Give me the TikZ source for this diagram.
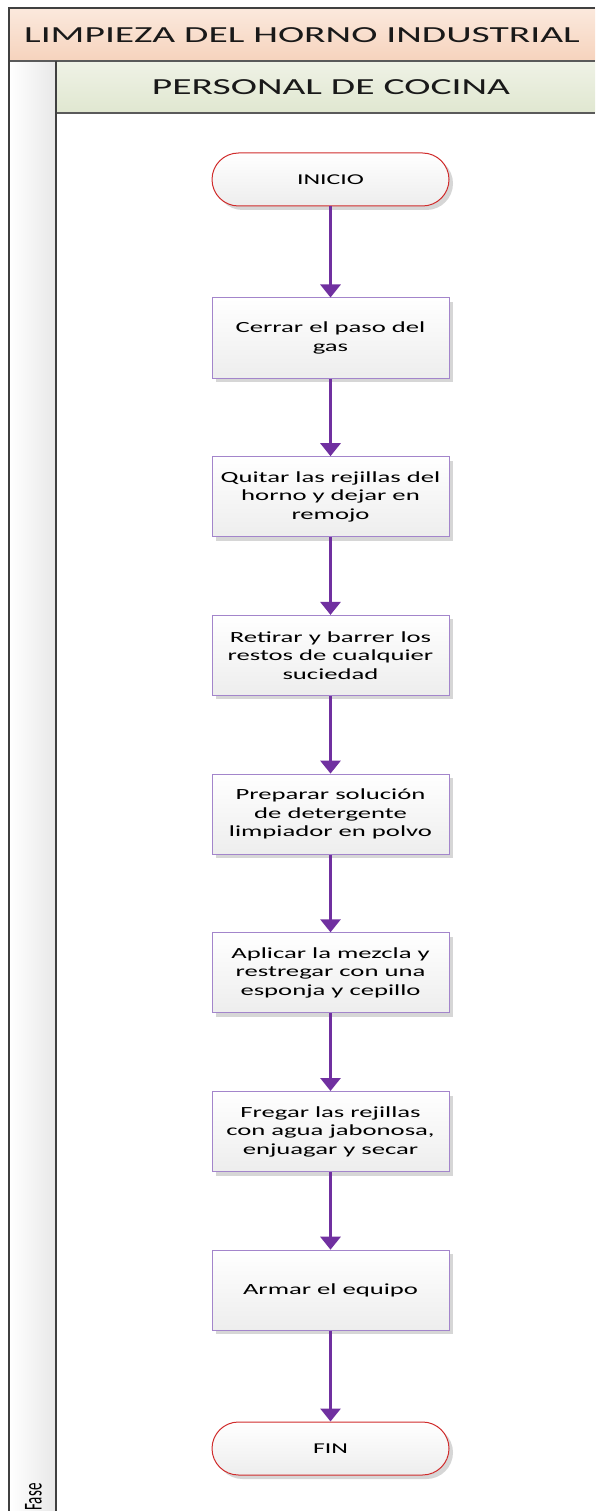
\documentclass[tikz,border=0pt]{standalone}
\usepackage{fontspec}
\usetikzlibrary{arrows.meta,shadows}
\setmainfont{Carlito}
\newfontfamily\widefont[FakeStretch=1.72]{Carlito}
\definecolor{framegray}{HTML}{404040}
\definecolor{bandline}{HTML}{5A5A5A}
\definecolor{peachtop}{HTML}{FBE9DD}
\definecolor{peachbot}{HTML}{F6D3BD}
\definecolor{sagetop}{HTML}{EFF2E6}
\definecolor{sagebot}{HTML}{E0E7D0}
\definecolor{flowpurple}{HTML}{7030A0}
\definecolor{boxedge}{HTML}{A385CB}
\definecolor{termedge}{HTML}{D02C2C}
\tikzset{
  x=1pt, y=-1pt,
  boxshade/.style={top color=white, bottom color=black!7,
    drop shadow={shadow xshift=4pt, shadow yshift=-4pt, fill=black!16, opacity=1}},
  process/.style={boxshade, draw=boxedge, line width=1pt, minimum width=237pt,
    minimum height=80pt, align=center, inner sep=2pt,
    font=\widefont\fontsize{15.5}{18.5}\selectfont},
  terminal/.style={boxshade, draw=termedge, line width=1pt, minimum width=237pt,
    minimum height=53pt, rounded corners=26.5pt, align=center,
    font=\widefont\fontsize{15}{18}\selectfont},
  flow/.style={draw=flowpurple, line width=3pt,
    -{Triangle[width=20pt,length=13pt]}},
  headtext/.style={font=\widefont\fontsize{23}{27}\selectfont, text=black!90},
}
\begin{document}
\begin{tikzpicture}
\useasboundingbox (0,0) rectangle (595,1511);
% lane frame
\shade[left color=white, right color=black!9] (9,61) rectangle (56,1511);
\shade[top color=peachtop, bottom color=peachbot] (9,8) rectangle (595,61);
\shade[top color=sagetop, bottom color=sagebot] (56,61) rectangle (595,113);
\draw[bandline, line width=1.3pt] (9,61) -- (595,61);
\draw[bandline, line width=1.3pt] (56,113) -- (595,113);
\draw[framegray, line width=2pt] (9,1511) -- (9,8) -- (595,8);
\draw[framegray, line width=2pt] (56,61) -- (56,1511);
% headers
\node[headtext] (title) at (302,35) {LIMPIEZA DEL HORNO INDUSTRIAL};
\node[headtext] (lane) at (331,87) {PERSONAL DE COCINA};
\node[rotate=90, anchor=south, inner sep=0pt, font=\fontsize{15}{18}\selectfont]
  (fase) at (42,1497) {\scalebox{1}[1.72]{Fase}};
% flow
\node[terminal] (inicio) at (330.5,179.5) {INICIO};
\node[process] (p1) at (330.5,338) {Cerrar el paso del\\gas};
\node[process] (p2) at (330.5,496.7) {Quitar las rejillas del\\horno y dejar en\\remojo};
\node[process] (p3) at (330.5,655.4) {Retirar y barrer los\\restos de cualquier\\suciedad};
\node[process] (p4) at (330.5,814.1) {Preparar solución\\de detergente\\limpiador en polvo};
\node[process] (p5) at (330.5,972.8) {Aplicar la mezcla y\\restregar con una\\esponja y cepillo};
\node[process] (p6) at (330.5,1131.5) {Fregar las rejillas\\con agua jabonosa,\\enjuagar y secar};
\node[process] (p7) at (330.5,1290.2) {Armar el equipo};
\node[terminal] (fin) at (330.5,1448.5) {FIN};
\foreach \a/\b in {inicio/p1,p1/p2,p2/p3,p3/p4,p4/p5,p5/p6,p6/p7,p7/fin}
  \draw[flow] (\a) -- (\b);
\end{tikzpicture}
\end{document}
